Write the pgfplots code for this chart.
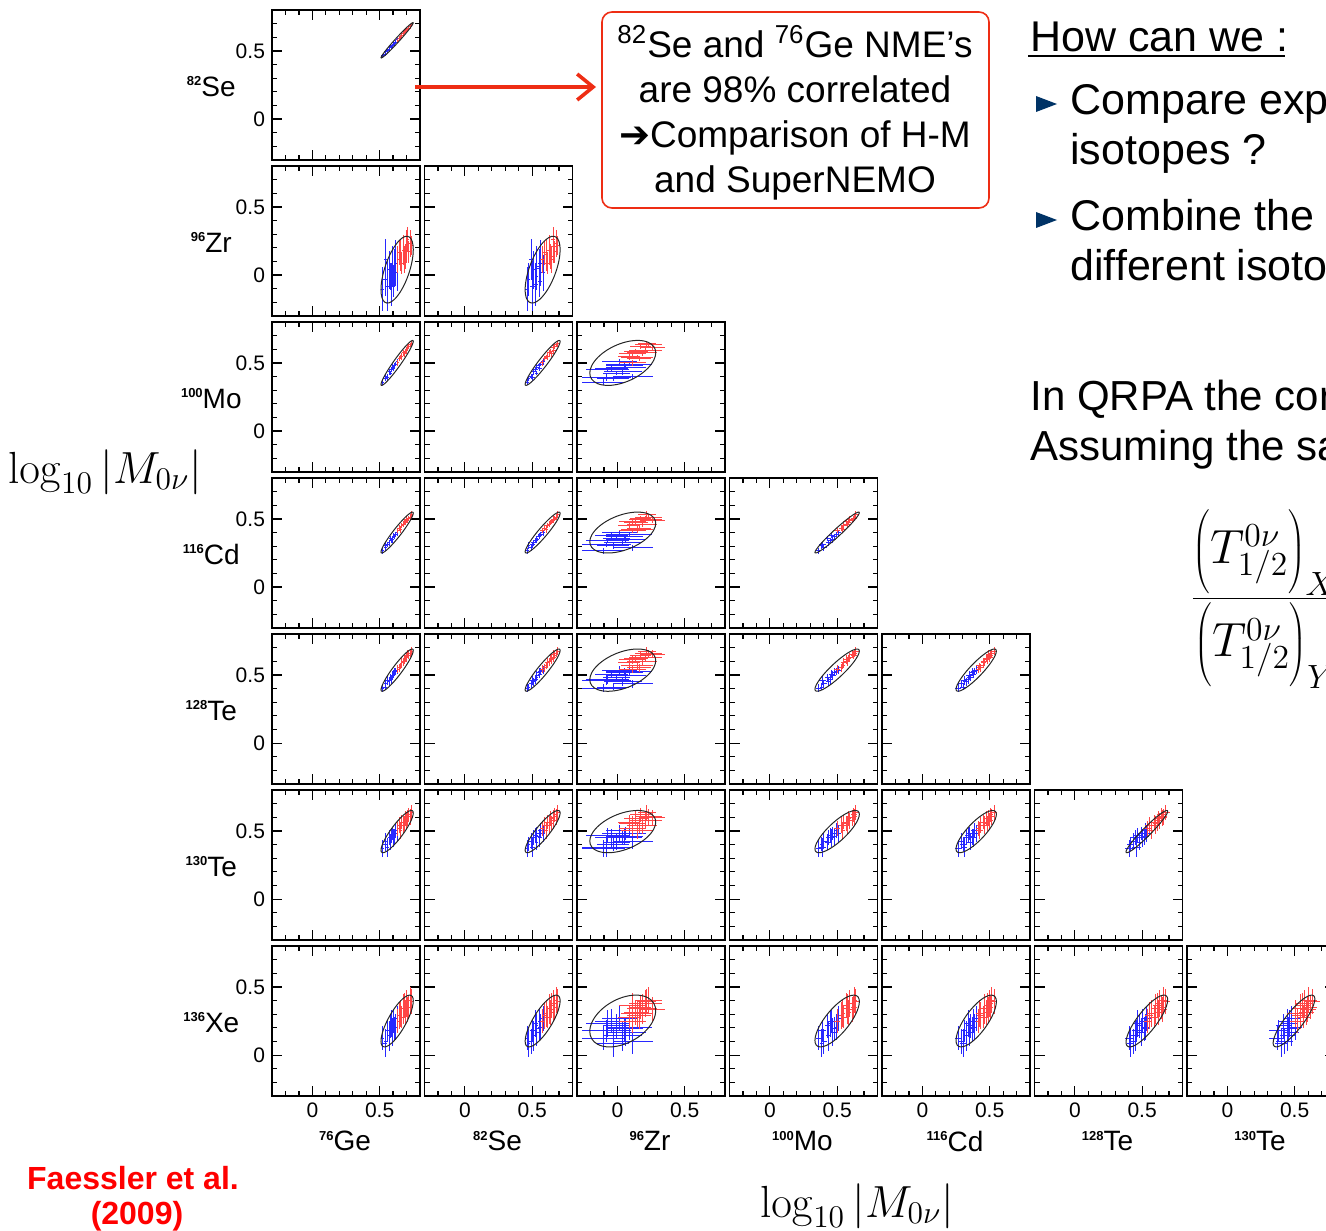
\RequirePackage{fix-cm}
\documentclass[border=0pt]{standalone}
\usepackage[no-math]{fontspec}
\setmainfont{Liberation Sans}
\newfontfamily\dejavu{DejaVu Sans}
\usepackage{pgfplots}
\usepackage{pgfplotstable}
\pgfplotsset{compat=1.18}
\usetikzlibrary{arrows.meta}

% unit circle (cos, sin) used to draw the correlation ellipses
\pgfplotstableread{
c s
1.0000 0.0000
0.9848 0.1736
0.9397 0.3420
0.8660 0.5000
0.7660 0.6428
0.6428 0.7660
0.5000 0.8660
0.3420 0.9397
0.1736 0.9848
0.0000 1.0000
-0.1736 0.9848
-0.3420 0.9397
-0.5000 0.8660
-0.6428 0.7660
-0.7660 0.6428
-0.8660 0.5000
-0.9397 0.3420
-0.9848 0.1736
-1.0000 0.0000
-0.9848 -0.1736
-0.9397 -0.3420
-0.8660 -0.5000
-0.7660 -0.6428
-0.6428 -0.7660
-0.5000 -0.8660
-0.3420 -0.9397
-0.1736 -0.9848
0.0000 -1.0000
0.1736 -0.9848
0.3420 -0.9397
0.5000 -0.8660
0.6428 -0.7660
0.7660 -0.6428
0.8660 -0.5000
0.9397 -0.3420
0.9848 -0.1736
1.0000 0.0000
}\unitcircle

\pgfplotstableread{
Ge eGe Se eSe Zr eZr Mo eMo Cd eCd Ta eTa Tb eTb Xe eXe
0.522 0.010 0.465 0.015 -0.104 0.16 0.360 0.020 0.265 0.020 0.403 0.030 0.371 0.060 0.124 0.09
0.540 0.012 0.471 0.012 -0.032 0.12 0.385 0.015 0.303 0.025 0.411 0.025 0.402 0.050 0.088 0.10
0.546 0.010 0.494 0.014 0.114 0.15 0.401 0.020 0.288 0.020 0.434 0.028 0.425 0.060 0.098 0.09
0.558 0.008 0.504 0.018 -0.080 0.18 0.393 0.025 0.310 0.018 0.458 0.035 0.379 0.070 0.178 0.08
0.570 0.010 0.510 0.015 0.040 0.14 0.434 0.020 0.325 0.022 0.450 0.030 0.449 0.055 0.142 0.11
0.582 0.012 0.530 0.012 -0.008 0.10 0.426 0.018 0.355 0.020 0.481 0.028 0.418 0.060 0.214 0.09
0.588 0.010 0.526 0.015 -0.070 0.16 0.451 0.020 0.340 0.020 0.465 0.030 0.464 0.055 0.231 0.10
0.594 0.010 0.536 0.016 0.064 0.15 0.467 0.022 0.348 0.025 0.496 0.032 0.480 0.050 0.169 0.10
0.606 0.009 0.556 0.014 -0.044 0.12 0.459 0.020 0.378 0.018 0.504 0.030 0.449 0.065 0.250 0.085
0.612 0.010 0.552 0.014 0.052 0.14 0.484 0.018 0.370 0.020 0.520 0.028 0.456 0.060 0.193 0.09
0.618 0.011 0.562 0.015 0.088 0.17 0.492 0.015 0.385 0.020 0.527 0.025 0.503 0.055 0.205 0.095
0.630 0.010 0.582 0.013 0.016 0.13 0.508 0.020 0.400 0.022 0.535 0.030 0.480 0.060 0.268 0.09
}\bluedata

\pgfplotstableread{
Ge eGe Se eSe Zr eZr Mo eMo Cd eCd Ta eTa Tb eTb Xe eXe
0.636 0.010 0.575 0.015 0.112 0.10 0.500 0.020 0.415 0.020 0.543 0.030 0.518 0.055 0.250 0.09
0.648 0.010 0.591 0.014 0.163 0.09 0.533 0.018 0.430 0.022 0.551 0.028 0.542 0.060 0.288 0.10
0.654 0.012 0.608 0.012 0.148 0.12 0.541 0.015 0.423 0.025 0.566 0.025 0.503 0.060 0.304 0.10
0.666 0.008 0.614 0.018 0.088 0.08 0.550 0.025 0.453 0.018 0.589 0.035 0.565 0.050 0.277 0.08
0.678 0.010 0.627 0.015 0.184 0.11 0.574 0.020 0.460 0.022 0.597 0.030 0.542 0.065 0.340 0.11
0.684 0.011 0.643 0.014 0.114 0.10 0.566 0.020 0.483 0.020 0.613 0.030 0.557 0.055 0.364 0.09
0.690 0.012 0.640 0.012 0.136 0.09 0.583 0.018 0.475 0.020 0.620 0.028 0.588 0.055 0.313 0.09
0.702 0.010 0.660 0.016 0.208 0.12 0.591 0.022 0.498 0.025 0.628 0.032 0.573 0.060 0.376 0.10
0.708 0.010 0.656 0.015 0.261 0.09 0.616 0.018 0.490 0.020 0.651 0.030 0.596 0.060 0.336 0.09
0.714 0.009 0.666 0.014 0.172 0.08 0.624 0.020 0.505 0.018 0.644 0.030 0.619 0.050 0.349 0.085
0.726 0.011 0.679 0.015 0.232 0.10 0.632 0.015 0.513 0.020 0.659 0.025 0.604 0.060 0.403 0.095
0.738 0.010 0.692 0.013 0.220 0.07 0.640 0.020 0.535 0.022 0.675 0.030 0.635 0.055 0.394 0.09
}\reddata

% ellipse centres and half-widths per isotope
\def\mGe{0.63}\def\sGe{0.12}
\def\mSe{0.578}\def\sSe{0.13}
\def\mZr{0.04}\def\sZr{0.245}
\def\mMo{0.50}\def\sMo{0.165}
\def\mCd{0.40}\def\sCd{0.15}
\def\mTa{0.535}\def\sTa{0.155}
\def\mTb{0.495}\def\sTb{0.155}
\def\mXe{0.25}\def\sXe{0.19}

\newcommand\isofont{\fontsize{14}{16}\selectfont}
\newcommand\iso[2]{\raisebox{5.4pt}{\fontsize{6.5}{7}\selectfont\bfseries #1}#2}
\newcommand\Tpar{\left(\vrule height 28pt depth 6pt width 0pt T^{0\nu}_{1/2}\right)}
\definecolor{arrowred}{RGB}{238,45,20}
\definecolor{navy}{RGB}{0,51,102}
\definecolor{barblue}{RGB}{40,40,255}
\definecolor{barred}{RGB}{255,70,70}

\pgfplotsset{
  panel/.style={
    scale only axis, width=74pt, height=75pt,
    xmin=-0.3, xmax=0.8, ymin=-0.3, ymax=0.8,
    xtick={0,0.5}, ytick={0,0.5},
    minor xtick={-0.2,-0.1,0.1,0.2,0.3,0.4,0.6,0.7},
    minor ytick={-0.2,-0.1,0.1,0.2,0.3,0.4,0.6,0.7},
    xticklabels={,}, yticklabels={,},
    tick align=inside, major tick length=5pt, minor tick length=2.5pt,
    axis line style={line width=0.9pt},
    tick style={black, line width=0.6pt},
    anchor=north west,
    ticklabel style={font=\fontsize{10.5}{12}\selectfont},
    every axis y label/.style={at={(axis description cs:-0.41,0.49)}, anchor=center, font=\isofont},
    every axis x label/.style={at={(axis description cs:0.493,-0.30)}, anchor=center, font=\isofont},
  },
  ylab/.style={yticklabels={0,0.5}, ylabel={#1}},
  xlab/.style={xticklabels={0,0.5}, xlabel={#1}},
  ellstyle/.style={black!85, line width=0.5pt, smooth, mark=none},
  bluebars/.style={barblue, draw=none, mark=none, error bars/.cd, x dir=both, x explicit, y dir=both, y explicit, error mark=none, error bar style={color=barblue, line width=0.5pt}},
  redbars/.style={barred, draw=none, mark=none, error bars/.cd, x dir=both, x explicit, y dir=both, y explicit, error mark=none, error bar style={color=barred, line width=0.5pt}},
}

\newcommand\panel[6]{%
\begin{axis}[panel, at={(#1pt,#2pt)}, #6]
\addplot[bluebars] table[x=#3,y=#4,x error=e#3,y error=e#4]{\bluedata};
\addplot[redbars] table[x=#3,y=#4,x error=e#3,y error=e#4]{\reddata};
\addplot[ellstyle] table[x expr={\csname m#3\endcsname+\csname s#3\endcsname*\thisrow{c}}, y expr={\csname m#4\endcsname+\csname s#4\endcsname*(#5*\thisrow{c}+sqrt(1-#5*#5)*\thisrow{s})}]{\unitcircle};
\end{axis}}

\begin{document}
\begin{tikzpicture}
\useasboundingbox (0,0) rectangle (663pt,-615pt);
\clip (0,0) rectangle (663pt,-615pt);

\panel{136}{-5}{Ge}{Se}{0.985}{ylab={\iso{82}{Se}}}
\panel{136}{-83}{Ge}{Zr}{0.6}{ylab={\iso{96}{Zr}}}
\panel{212.25}{-83}{Se}{Zr}{0.6}{}
\panel{136}{-161}{Ge}{Mo}{0.96}{ylab={\iso{100}{Mo}}}
\panel{212.25}{-161}{Se}{Mo}{0.95}{}
\panel{288.5}{-161}{Zr}{Mo}{0.45}{}
\panel{136}{-239}{Ge}{Cd}{0.95}{ylab={\iso{116}{Cd}}}
\panel{212.25}{-239}{Se}{Cd}{0.94}{}
\panel{288.5}{-239}{Zr}{Cd}{0.45}{}
\panel{364.75}{-239}{Mo}{Cd}{0.97}{}
\panel{136}{-317}{Ge}{Ta}{0.93}{ylab={\iso{128}{Te}}}
\panel{212.25}{-317}{Se}{Ta}{0.93}{}
\panel{288.5}{-317}{Zr}{Ta}{0.45}{}
\panel{364.75}{-317}{Mo}{Ta}{0.9}{}
\panel{441}{-317}{Cd}{Ta}{0.9}{}
\panel{136}{-395}{Ge}{Tb}{0.88}{ylab={\iso{130}{Te}}}
\panel{212.25}{-395}{Se}{Tb}{0.88}{}
\panel{288.5}{-395}{Zr}{Tb}{0.45}{}
\panel{364.75}{-395}{Mo}{Tb}{0.82}{}
\panel{441}{-395}{Cd}{Tb}{0.82}{}
\panel{517.25}{-395}{Ta}{Tb}{0.96}{}
\panel{136}{-473}{Ge}{Xe}{0.78}{ylab={\iso{136}{Xe}}, xlab={\iso{76}{Ge}}}
\panel{212.25}{-473}{Se}{Xe}{0.78}{xlab={\iso{82}{Se}}}
\panel{288.5}{-473}{Zr}{Xe}{0.4}{xlab={\iso{96}{Zr}}}
\panel{364.75}{-473}{Mo}{Xe}{0.75}{xlab={\iso{100}{Mo}}}
\panel{441}{-473}{Cd}{Xe}{0.75}{xlab={\iso{116}{Cd}}}
\panel{517.25}{-473}{Ta}{Xe}{0.82}{xlab={\iso{128}{Te}}}
\panel{593.5}{-473}{Tb}{Xe}{0.85}{xlab={\iso{130}{Te}}}

% global axis labels
\node[anchor=base, inner sep=0, font=\fontsize{22.5}{26}\selectfont] at (52.5pt,-241.5pt) {$\log_{10}\left|M_{0\nu}\right|$};
\node[anchor=base, inner sep=0, font=\fontsize{22.5}{26}\selectfont] at (428.5pt,-608.5pt) {$\log_{10}\left|M_{0\nu}\right|$};

% callout box and arrow
\draw[arrowred, line width=0.8pt, rounded corners=5pt] (301pt,-6pt) rectangle (494.5pt,-104pt);
\node[align=center, font=\fontsize{18.5}{22.6}\selectfont, inner sep=0] at (397.5pt,-56.5pt) {\textsuperscript{82}Se and \textsuperscript{76}Ge NME’s\\are 98\% correlated\\{\dejavu\bfseries ➔}Comparison of H-M\\and SuperNEMO};
\draw[arrowred, line width=1.8pt, -{Straight Barb[length=8pt, width=13pt]}] (207.5pt,-43.5pt) -- (298pt,-43.5pt);

% right-hand text
\node[anchor=base west, inner sep=0, font=\fontsize{21.5}{25}\selectfont] at (515pt,-26pt) {How can we :};
\draw[line width=1.2pt] (514pt,-28pt) -- (642.5pt,-28pt);
\fill[navy] (518pt,-48pt) -- (518pt,-56pt) -- (528.5pt,-52pt) -- cycle;
\fill[navy] (518pt,-106pt) -- (518pt,-114pt) -- (528.5pt,-110pt) -- cycle;
\node[anchor=base west, inner sep=0, font=\fontsize{21.5}{25}\selectfont] at (535pt,-57.5pt) {Compare experiments of different};
\node[anchor=base west, inner sep=0, font=\fontsize{21.5}{25}\selectfont] at (535pt,-82.5pt) {isotopes ?};
\node[anchor=base west, inner sep=0, font=\fontsize{21.5}{25}\selectfont] at (535pt,-115pt) {Combine the results of};
\node[anchor=base west, inner sep=0, font=\fontsize{21.5}{25}\selectfont] at (535pt,-140pt) {different isotopes ?};
\node[anchor=base west, inner sep=0, font=\fontsize{21}{25}\selectfont] at (515pt,-205pt) {In QRPA the correlations are strong.};
\node[anchor=base west, inner sep=0, font=\fontsize{21}{25}\selectfont] at (515pt,-230pt) {Assuming the same mechanism:};
\node[anchor=base west, inner sep=0, font=\fontsize{24}{28}\selectfont] at (595pt,-305pt) {$\displaystyle\frac{\Tpar_{X}}{\Tpar_{Y}}=\frac{|M_Y|^2}{|M_X|^2}$};

% reference
\node[anchor=base, inner sep=0, text=red, font=\fontsize{16}{18}\selectfont\bfseries] at (66.5pt,-594.5pt) {Faessler et al.};
\node[anchor=base, inner sep=0, text=red, font=\fontsize{16}{18}\selectfont\bfseries] at (68.5pt,-612pt) {(2009)};
\end{tikzpicture}
\end{document}
